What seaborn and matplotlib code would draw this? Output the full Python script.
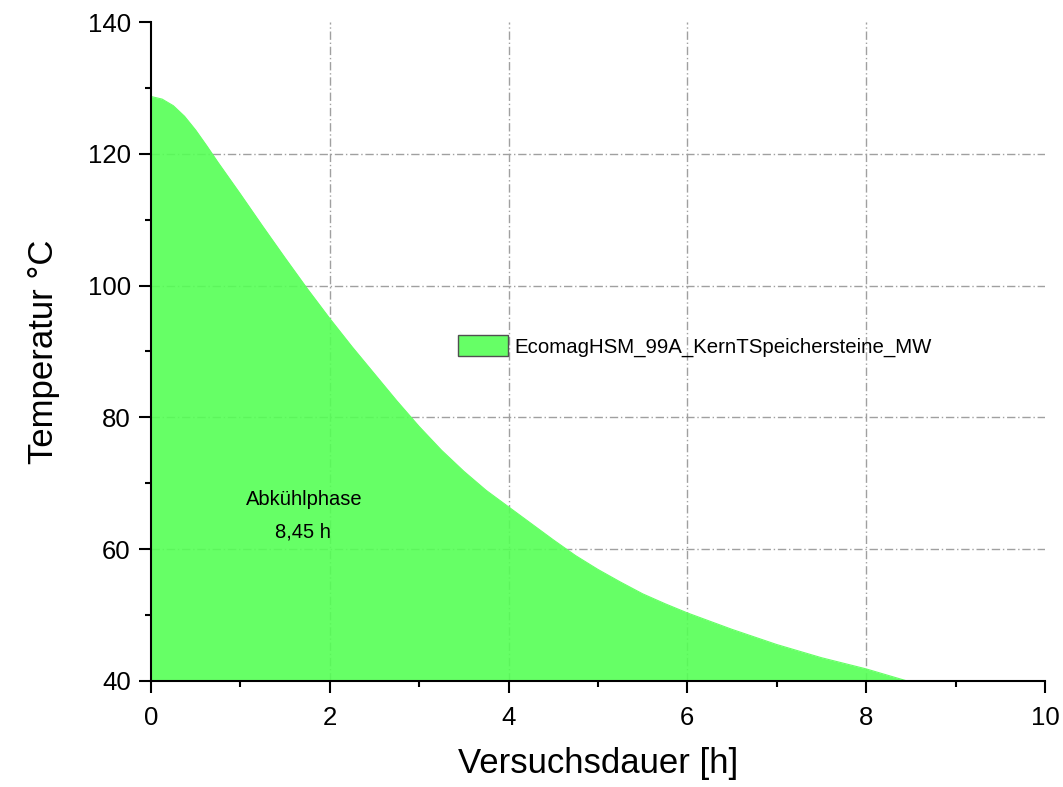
import matplotlib
matplotlib.use("Agg")
import matplotlib.pyplot as plt
from matplotlib.ticker import MultipleLocator
from matplotlib.patches import Patch
import seaborn as sns
import pandas as pd

# --- Daten ---
zeit_h = [0.0, 0.125, 0.25, 0.375, 0.5, 0.625, 0.75, 0.875, 1.0, 1.25, 1.5,
          1.75, 2.0, 2.25, 2.5, 2.75, 3.0, 3.25, 3.5, 3.75, 4.0, 4.25, 4.5,
          4.75, 5.0, 5.25, 5.5, 5.75, 6.0, 6.5, 7.0, 7.5, 8.0, 8.25, 8.45]
temperatur_c = [128.7, 128.3, 127.3, 125.7, 123.6, 121.2, 118.7, 116.3,
                113.9, 109.0, 104.2, 99.5, 95.0, 90.7, 86.6, 82.5, 78.6,
                75.0, 71.8, 68.9, 66.4, 63.9, 61.4, 59.0, 56.9, 55.0, 53.2,
                51.7, 50.3, 47.8, 45.5, 43.5, 41.8, 40.8, 40.0]
serie_name = "EcomagHSM_99A_KernTSpeichersteine_MW"
anmerkung = ["Abkühlphase", "8,45 h"]
x_ticks = [0, 2, 4, 6, 8, 10]
y_ticks = [40, 60, 80, 100, 120, 140]

df = pd.DataFrame({"zeit": zeit_h, "temp": temperatur_c})

sns.set_style("ticks")
plt.rcParams["font.family"] = ["Liberation Sans", "DejaVu Sans"]
plt.rcParams["text.color"] = "black"
plt.rcParams["axes.labelcolor"] = "black"
plt.rcParams["xtick.color"] = "black"
plt.rcParams["ytick.color"] = "black"

GRUEN = "#66FF66"

fig = plt.figure(figsize=(10.63, 7.87), dpi=100)
ax = fig.add_axes([0.142, 0.135, 0.841, 0.837])

# Gitter (strichpunktiert, grau)
ax.set_axisbelow(True)
ax.grid(True, color="#a0a0a0", linestyle=(0, (6, 2, 1, 2)), linewidth=1.0)

# Fläche unter der Kurve
ax.fill_between(df["zeit"], df["temp"], 40, color=(0.333, 1.0, 0.333),
                alpha=0.9, linewidth=0, zorder=2)
sns.lineplot(data=df, x="zeit", y="temp", ax=ax, color=GRUEN,
             linewidth=0.8, zorder=3)

ax.set_xlim(0, 10)
ax.set_ylim(40, 140)
ax.set_xticks(x_ticks)
ax.set_yticks(y_ticks)
ax.xaxis.set_minor_locator(MultipleLocator(1))
ax.yaxis.set_minor_locator(MultipleLocator(10))

# Gitterlinien am Rand ausblenden
for i, gl in enumerate(ax.xaxis.get_gridlines()):
    if i in (0, len(x_ticks) - 1):
        gl.set_visible(False)
for i, gl in enumerate(ax.yaxis.get_gridlines()):
    if i in (0, len(y_ticks) - 1):
        gl.set_visible(False)

sns.despine(ax=ax)
for s in ("left", "bottom"):
    ax.spines[s].set_linewidth(1.5)
    ax.spines[s].set_color("black")
    ax.spines[s].set_zorder(4)

ax.tick_params(which="major", direction="out", length=8.5, width=1.5,
               labelsize=18.5, color="black", labelcolor="black")
ax.tick_params(axis="x", which="major", pad=10)
ax.tick_params(axis="y", which="major", pad=6)
ax.tick_params(which="minor", direction="out", length=4.3, width=1.5,
               color="black")

ax.set_xlabel("Versuchsdauer [h]", fontsize=25, labelpad=12, color="black")
ax.set_ylabel("Temperatur °C", fontsize=25, labelpad=20, color="black")

# Anmerkung
ax.text(1.72, 67.5, anmerkung[0], fontsize=14.5, ha="center", va="center",
        color="black", zorder=5)
ax.text(1.70, 62.6, anmerkung[1], fontsize=14.5, ha="center", va="center",
        color="black", zorder=5)

# Legende
handle = Patch(facecolor=GRUEN, edgecolor="#505050", linewidth=1.0)
leg = ax.legend([handle], [serie_name], loc="center left",
                bbox_to_anchor=(0.344, 0.508), frameon=False, fontsize=14.7,
                handlelength=2.45, handleheight=1.15, handletextpad=0.3,
                borderpad=0, borderaxespad=0)
for t in leg.get_texts():
    t.set_color("black")

fig.savefig("out.png", dpi=100)
